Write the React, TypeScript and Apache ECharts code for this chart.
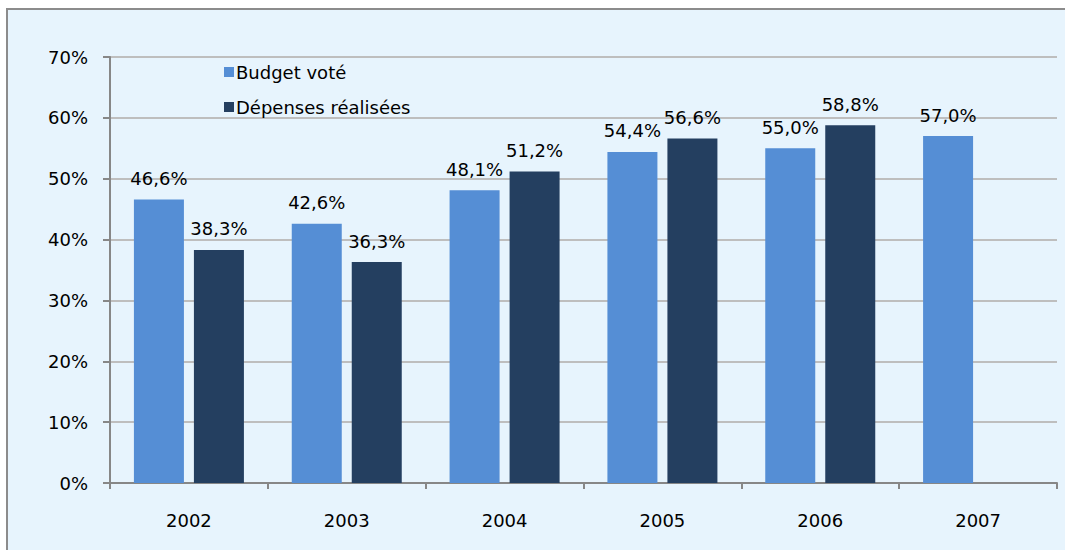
import React, { useEffect, useRef } from "react";
import * as echarts from "echarts";

const categories = ["2002", "2003", "2004", "2005", "2006", "2007"];
const budgetVote = [46.6, 42.6, 48.1, 54.4, 55.0, 57.0];
const depensesRealisees = [38.3, 36.3, 51.2, 56.6, 58.8, null];
const seriesNames = ["Budget voté", "Dépenses réalisées"];
const yTicks = { min: 0, max: 70, interval: 10 };

const FONT = "DejaVu Sans";

export default function App() {
  const ref = useRef<HTMLDivElement>(null);
  useEffect(() => {
    document.body.style.margin = "0";
    const chart = echarts.init(ref.current!, null, { renderer: "svg" });
    const fmt = (p: any) =>
      p.value == null ? "" : Number(p.value).toFixed(1).replace(".", ",") + "%";
    chart.setOption({
      animation: false,
      backgroundColor: "transparent",
      textStyle: { fontFamily: FONT },
      legend: {
        orient: "vertical",
        left: 219,
        top: 58,
        itemWidth: 10,
        itemHeight: 10,
        itemGap: 17,
        icon: "rect",
        textStyle: { fontFamily: FONT, fontSize: 18, color: "#000", padding: [0, 0, 0, -3] },
        data: seriesNames,
      },
      grid: { left: 110, right: 8, top: 57, bottom: 67, containLabel: false },
      xAxis: {
        type: "category",
        data: categories,
        axisLine: { lineStyle: { color: "#878787", width: 2 } },
        axisTick: { show: true, length: 6, lineStyle: { color: "#878787", width: 2 } },
        axisLabel: { color: "#000", fontFamily: FONT, fontSize: 18, margin: 28 },
      },
      yAxis: {
        type: "value",
        min: yTicks.min,
        max: yTicks.max,
        interval: yTicks.interval,
        axisLine: { show: true, lineStyle: { color: "#878787", width: 2 } },
        axisTick: { show: true, length: 7, lineStyle: { color: "#878787", width: 2 } },
        axisLabel: {
          color: "#000",
          fontFamily: FONT,
          fontSize: 18,
          margin: 22,
          formatter: (v: number) => v + "%",
        },
        splitLine: { lineStyle: { color: "#BEBEBE", width: 2 } },
      },
      series: [
        {
          name: seriesNames[0],
          type: "bar",
          data: budgetVote,
          barWidth: 50,
          barGap: "20%",
          itemStyle: { color: "#558ED5" },
          label: {
            show: true,
            position: "top",
            distance: 12,
            color: "#000",
            fontFamily: FONT,
            fontSize: 18,
            formatter: fmt,
          },
        },
        {
          name: seriesNames[1],
          type: "bar",
          data: depensesRealisees,
          barWidth: 50,
          barGap: "20%",
          itemStyle: { color: "#243F60" },
          label: {
            show: true,
            position: "top",
            distance: 12,
            color: "#000",
            fontFamily: FONT,
            fontSize: 18,
            formatter: fmt,
          },
        },
      ],
    });
    return () => chart.dispose();
  }, []);
  return (
    <div
      style={{
        position: "relative",
        width: 1065,
        height: 550,
        overflow: "hidden",
        background: "#ffffff",
      }}
    >
      <div
        style={{
          position: "absolute",
          left: 6,
          top: 8,
          width: 1100,
          height: 600,
          background: "#E7F4FD",
          border: "2px solid #8C8C8C",
        }}
      />
      <div
        ref={ref}
        style={{ position: "absolute", left: 0, top: 0, width: 1065, height: 550 }}
      />
    </div>
  );
}
